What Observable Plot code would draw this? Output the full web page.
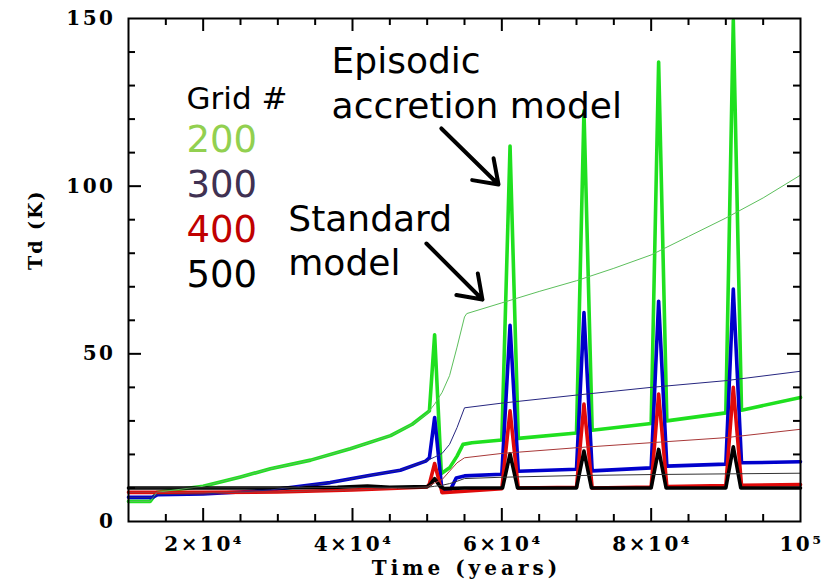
<!DOCTYPE html>
<html><head><meta charset="utf-8">
<script src="https://cdn.jsdelivr.net/npm/d3@7"></script>
<script src="https://cdn.jsdelivr.net/npm/@observablehq/plot@0.6"></script>
<style>
body{margin:0;background:#fff}
#chart svg{display:block;background:#fff}
</style>
</head><body><div id="chart"></div>
<script>
// ---- Data (time in years, Td in K) ----
// Episodic accretion model (thick lines)
const ep200 = [[10000,6.0],[12900,6.0],[13800,8.7],[20000,10.5],[25000,13.3],[29000,15.7],[34400,18.3],[39700,21.7],[45100,25.6],[48000,29.0],[50300,33.0],[51000,55.7],[51900,14.3],[53000,16.0],[54000,19.5],[54800,23.0],[56000,23.5],[60000,24.3],[61100,112.0],[62200,24.8],[70000,26.4],[71000,122.5],[72100,27.2],[80000,29.2],[81000,137.0],[82100,30.0],[90000,32.4],[91000,149.5],[92100,33.2],[100000,37.0]];
const ep300 = [[10000,7.2],[13200,7.2],[13900,8.0],[20000,8.2],[25000,8.8],[29000,9.4],[33000,10.5],[37000,11.6],[42400,13.8],[46400,15.3],[49800,18.0],[50300,19.0],[51000,31.0],[52000,8.8],[53000,9.0],[53900,13.0],[55000,13.6],[60000,14.1],[61100,58.5],[62200,15.0],[70000,15.6],[71000,62.3],[72100,15.1],[80000,16.0],[81000,65.7],[82100,16.5],[90000,17.1],[91000,69.3],[92100,17.5],[100000,17.8]];
const ep400 = [[10000,8.7],[20000,8.7],[30000,8.8],[40000,9.4],[46000,9.9],[50000,10.3],[50300,11.2],[51000,17.3],[52000,8.6],[55000,9.0],[60000,9.8],[61100,33.0],[62200,10.0],[70000,10.2],[71000,35.0],[72100,10.0],[80000,10.3],[81000,38.0],[82100,10.4],[90000,10.7],[91000,40.0],[92100,10.8],[100000,11.0]];
const ep500 = [[10000,10.0],[30000,10.0],[38000,10.2],[42000,10.6],[45000,10.2],[50000,10.4],[50400,11.0],[51000,12.8],[51700,10.5],[52300,9.8],[55000,10.0],[60100,10.0],[61100,20.2],[62100,10.0],[70000,10.0],[71000,21.0],[72000,10.0],[80000,10.0],[81000,21.5],[82000,10.0],[90000,10.0],[91000,22.3],[92000,10.0],[100000,10.0]];
// Standard model (thin lines)
const st200 = [[10000,6.0],[12900,6.0],[13800,8.7],[20000,10.5],[25000,13.3],[29000,15.7],[34400,18.3],[39700,21.7],[45100,25.6],[48000,29.0],[50000,32.2],[51000,35.0],[52000,38.5],[53000,43.5],[54000,52.0],[55000,61.0],[55300,62.0],[60000,65.2],[65000,68.6],[70000,71.8],[75000,75.5],[80000,79.5],[85000,85.0],[90000,90.5],[95000,96.5],[100000,103.3]];
const st300 = [[10000,7.2],[13200,7.2],[13900,8.0],[20000,8.2],[25000,8.8],[29000,9.4],[33000,10.5],[37000,11.6],[42400,13.8],[46400,15.3],[49800,18.0],[51000,19.2],[52000,20.3],[53000,23.0],[54000,28.0],[55000,33.9],[60000,35.3],[70000,37.7],[80000,40.0],[90000,42.0],[100000,44.8]];
const st400 = [[10000,8.7],[20000,8.7],[30000,8.8],[40000,9.4],[46000,9.9],[50000,10.3],[51000,11.5],[52000,12.5],[53000,15.0],[54000,17.5],[55000,19.0],[60000,20.3],[70000,22.0],[80000,23.5],[90000,25.0],[100000,27.5]];
const st500 = [[10000,10.0],[50000,10.2],[51000,10.5],[52000,10.8],[53000,11.3],[54000,12.0],[55000,12.8],[60000,13.2],[70000,13.7],[80000,14.0],[100000,14.4]];

// Ticks
const xMajor = [20000,40000,60000,80000];
const xMinor = [15000,25000,30000,35000,45000,50000,55000,65000,70000,75000,85000,90000,95000];
const xLabelVals = [20000,40000,60000,80000,100000];
const xTickLabels = ["2×10⁴","4×10⁴","6×10⁴","8×10⁴","10⁵"];
const yMajor = [50,100];
const yMinor = [10,20,30,40,60,70,80,90,110,120,130,140];
const yLabelVals = [0,50,100,150];
const yTickLabels = ["0","50","100","150"];
const xTitle = "Time (years)";
const yTitle = "Td (K)";

// Annotations (data coordinates)
const legendTitle = ["Grid #"];
const legendItems = ["200","300","400","500"];
const legendColors = ["#92d050","#403152","#c00000","#000000"];
const notes = [
  {t:37200, T:137.2, text:"Episodic"},
  {t:37200, T:123.8, text:"accretion model"},
  {t:31400, T:90.1, text:"Standard"},
  {t:31400, T:76.9, text:"model"}
];
const arrows = [
  {t1:51900, T1:117.2, t2:59550, T2:100.5},
  {t1:49900, T1:82.9, t2:57400, T2:66.2}
];

const W=838, H=585, mL=128, mR=38, mT=18, mB=64;
const plotW = W-mL-mR, plotH = H-mT-mB;
const rows = a => a.map(([t,T]) => ({t,T}));
const thick = [[ep200,"#1fe01f"],[ep300,"#0000cc"],[ep400,"#e00a0a"],[ep500,"#000000"]];
const thin = [[st200,"#5cbf5c"],[st300,"#262680"],[st400,"#a83838"],[st500,"#333333"]];

const serif = "DejaVu Serif";
const sans = "DejaVu Sans";

const marks = [];
for (const [d,c] of thick) marks.push(Plot.line(rows(d), {x:"t", y:"T", stroke:c, strokeWidth:3.6, strokeLinejoin:"round"}));
for (const [d,c] of thin) marks.push(Plot.line(rows(d), {x:"t", y:"T", stroke:c, strokeWidth:1}));

// ticks (inward, mirrored)
marks.push(
  Plot.tickX(xMajor, {x:d=>d, insetTop: plotH-13, stroke:"black", strokeWidth:2}),
  Plot.tickX(xMajor, {x:d=>d, insetBottom: plotH-13, stroke:"black", strokeWidth:2}),
  Plot.tickX(xMinor, {x:d=>d, insetTop: plotH-7, stroke:"black", strokeWidth:2}),
  Plot.tickX(xMinor, {x:d=>d, insetBottom: plotH-7, stroke:"black", strokeWidth:2}),
  Plot.tickY(yMajor, {y:d=>d, insetRight: plotW-13, stroke:"black", strokeWidth:2}),
  Plot.tickY(yMajor, {y:d=>d, insetLeft: plotW-13, stroke:"black", strokeWidth:2}),
  Plot.tickY(yMinor, {y:d=>d, insetRight: plotW-7, stroke:"black", strokeWidth:2}),
  Plot.tickY(yMinor, {y:d=>d, insetLeft: plotW-7, stroke:"black", strokeWidth:2}),
  Plot.frame({stroke:"black", strokeWidth:2})
);

// tick labels and axis titles
marks.push(
  Plot.text(xLabelVals, {x:d=>d, text:(d,i)=>xTickLabels[i], frameAnchor:"bottom", dy:29, dx:1, fontFamily:serif, fontWeight:"bold", fontSize:20, fill:"black"}),
  Plot.text(yLabelVals, {y:d=>d, text:(d,i)=>yTickLabels[i], frameAnchor:"left", textAnchor:"end", dx:-13, fontFamily:serif, fontWeight:"bold", fontSize:20, fill:"black"}),
  Plot.text([xTitle], {text:d=>d, frameAnchor:"bottom", dy:53, dx:2, fontFamily:serif, fontWeight:"bold", fontSize:20, fill:"black"}),
  Plot.text([yTitle], {text:d=>d, frameAnchor:"left", dx:-93, rotate:-90, fontFamily:serif, fontWeight:"bold", fontSize:19, fill:"black"})
);

// annotations
marks.push(
  Plot.text(legendTitle, {x:()=>17770, y:()=>125.9, text:d=>d, textAnchor:"start", fontFamily:sans, fontSize:31, fill:"black"}),
  Plot.text(legendItems, {x:()=>17770, y:(d,i)=>113.6 - i*13.4, text:d=>d, textAnchor:"start", fontFamily:sans, fontSize:37, fill:(d,i)=>legendColors[i]}),
  Plot.text(notes, {x:"t", y:"T", text:"text", textAnchor:"start", fontFamily:sans, fontSize:36, fill:"black"}),
  Plot.arrow(arrows, {x1:"t1", y1:"T1", x2:"t2", y2:"T2", stroke:"black", strokeWidth:4, headLength:20, headAngle:70})
);

const chart = Plot.plot({
  width: W, height: H,
  marginLeft: mL, marginRight: mR, marginTop: mT, marginBottom: mB,
  x: {domain:[10000,100000], axis:null},
  y: {domain:[0,150], axis:null},
  style: {background:"white", overflow:"visible"},
  marks
});
document.getElementById("chart").appendChild(chart);
// wide PGPLOT-like lettering for axis texts
d3.select(chart).selectAll("text").each(function() {
  const s = this.textContent;
  if (xTickLabels.includes(s) || yTickLabels.includes(s)) this.style.letterSpacing = "2.5px";
  else if (s === xTitle) this.style.letterSpacing = "4px";
  else if (s === yTitle) this.style.letterSpacing = "2px";
});
</script>
</body></html>
